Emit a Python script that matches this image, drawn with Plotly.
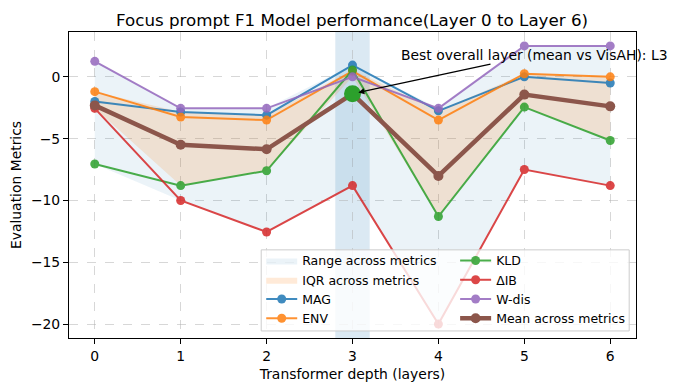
import numpy as np
import plotly.graph_objects as go

layers = [0, 1, 2, 3, 4, 5, 6]
mag = [-2.0, -2.85, -3.1, 0.95, -2.75, 0.0, -0.5]
env = [-1.2, -3.25, -3.5, 0.45, -3.5, 0.25, 0.0]
kld = [-7.05, -8.8, -7.6, 0.55, -11.3, -2.45, -5.15]
dib = [-2.55, -10.0, -12.55, -8.8, -20.0, -7.5, -8.8]
wdis = [1.25, -2.55, -2.55, 0.0, -2.55, 2.5, 2.5]
best_layer = 3

metrics = {"MAG": mag, "ENV": env, "KLD": kld, "ΔIB": dib, "W-dis": wdis}
colors = {"MAG": "#1f77b4", "ENV": "#ff7f0e", "KLD": "#2ca02c", "ΔIB": "#d62728", "W-dis": "#9467bd"}
legend_of = {"MAG": "legend", "ENV": "legend", "KLD": "legend2", "ΔIB": "legend2", "W-dis": "legend2"}

arr = np.array(list(metrics.values()))
lo, hi = arr.min(axis=0), arr.max(axis=0)
q25, q75 = np.percentile(arr, 25, axis=0), np.percentile(arr, 75, axis=0)
mean = arr.mean(axis=0)

FONT = "DejaVu Sans"
fig = go.Figure()

# range band
fig.add_trace(go.Scatter(x=layers, y=lo, mode="lines", line=dict(width=0), showlegend=False, hoverinfo="skip"))
fig.add_trace(go.Scatter(x=layers, y=hi, mode="lines", line=dict(width=0), fill="tonexty",
                         fillcolor="rgba(31,119,180,0.09)", name="Range across metrics", legend="legend"))
# IQR band
fig.add_trace(go.Scatter(x=layers, y=q25, mode="lines", line=dict(width=0), showlegend=False, hoverinfo="skip"))
fig.add_trace(go.Scatter(x=layers, y=q75, mode="lines", line=dict(width=0), fill="tonexty",
                         fillcolor="rgba(255,127,14,0.16)", name="IQR across metrics", legend="legend"))

for name, vals in metrics.items():
    fig.add_trace(go.Scatter(x=layers, y=vals, mode="lines+markers", name=name, opacity=0.85,
                             line=dict(color=colors[name], width=2),
                             marker=dict(size=9, color=colors[name]),
                             legend=legend_of[name]))

fig.add_trace(go.Scatter(x=layers, y=mean, mode="lines+markers", name="Mean across metrics",
                         line=dict(color="#8c564b", width=4.5),
                         marker=dict(size=10, color="#8c564b"), legend="legend2"))

# best layer marker
fig.add_trace(go.Scatter(x=[best_layer], y=[mean[best_layer]], mode="markers", showlegend=False,
                         marker=dict(size=17, color="#2ca02c")))

fig.add_vrect(x0=best_layer - 0.2, x1=best_layer + 0.2, fillcolor="rgba(31,119,180,0.16)",
              line_width=0, layer="below")

# legend frame (semi-transparent like matplotlib)
fig.add_shape(type="rect", xref="paper", yref="paper", x0=0.339, x1=0.988, y0=0.023, y1=0.288,
              fillcolor="rgba(255,255,255,0.8)", line=dict(color="#cccccc", width=1), layer="above")

fig.add_annotation(x=best_layer, y=mean[best_layer], ax=5.12, ay=1.8, axref="x", ayref="y",
                   text="Best overall layer (mean vs VisAH): L3", showarrow=True,
                   arrowhead=2, arrowsize=1, arrowwidth=1.2, arrowcolor="black", standoff=6,
                   font=dict(family=FONT, size=13.9, color="black"))

axis_common = dict(showline=True, linecolor="black", linewidth=1, mirror=True,
                   ticks="outside", ticklen=5, tickcolor="black", automargin=False,
                   showgrid=True, gridcolor="rgba(176,176,176,0.5)", griddash="dash", gridwidth=1,
                   zeroline=False, tickfont=dict(family=FONT, size=13.9, color="black"))

fig.update_xaxes(range=[-0.3, 6.3], tickvals=layers, title=dict(text="Transformer depth (layers)",
                 font=dict(family=FONT, size=13.9, color="black"), standoff=6), **axis_common)
fig.update_yaxes(range=[-21.125, 3.625], tickvals=[-20, -15, -10, -5, 0],
                 title=dict(text="Evaluation Metrics", font=dict(family=FONT, size=13.9, color="black"), standoff=6),
                 **axis_common)

leg = dict(bgcolor="rgba(0,0,0,0)", borderwidth=0, font=dict(family=FONT, size=12.5, color="black"),
           yanchor="top", y=0.301, xanchor="left", tracegroupgap=0, itemwidth=31, traceorder="normal")
fig.update_layout(
    width=677, height=390,
    margin=dict(l=69, r=41, t=32, b=52),
    plot_bgcolor="white", paper_bgcolor="white",
    title=dict(text="Focus prompt F1 Model performance(Layer 0 to Layer 6)", x=0.52, xanchor="center",
               y=0.949, yanchor="middle", font=dict(family=FONT, size=16.7, color="black")),
    legend=dict(x=0.339, **leg),
    legend2=dict(x=0.681, **leg),
)

fig.write_html("out.html", config={"displayModeBar": False},
               post_script="document.body.style.margin='0';")
